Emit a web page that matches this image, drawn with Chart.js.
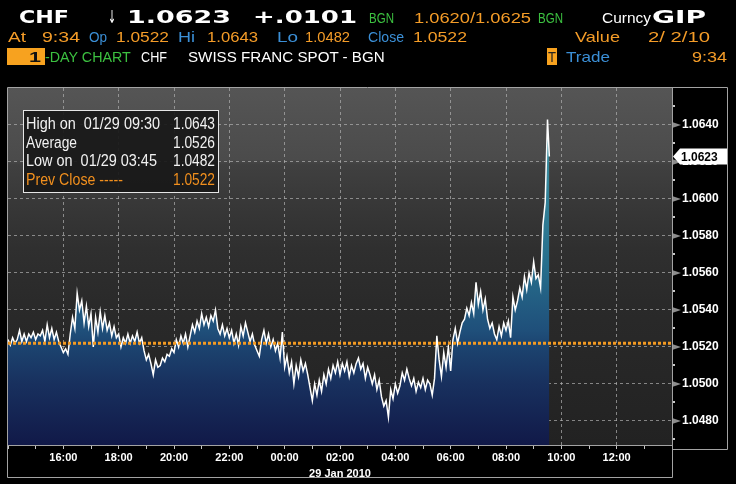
<!DOCTYPE html>
<html>
<head>
<meta charset="utf-8">
<script src="https://cdn.jsdelivr.net/npm/chart.js@4.4.1/dist/chart.umd.min.js"></script>
<style>
  html, body { margin: 0; padding: 0; background: #000; }
  #wrap { position: relative; width: 736px; height: 484px; overflow: hidden; }
  #chart { position: absolute; left: 0; top: 0; }
  #overlay { position: absolute; left: 0; top: 0; width: 736px; height: 484px; }
  .t { position: absolute; white-space: pre; transform-origin: 0 50%; line-height: 1; }
  .box { position: absolute; }
</style>
</head>
<body>
<div id="wrap">
  <canvas id="chart" width="736" height="484"></canvas>
  <div id="overlay"></div>
</div>
<script>
// CHF spot, 5 minute ticks from 14:00 (28 Jan) to 09:30 (29 Jan)
const startHour = 14;
const stepMin = 5;
const prices = [
  1.0524, 1.0521, 1.0525, 1.0522, 1.0524, 1.0529, 1.0523, 1.0527, 1.0523, 1.0527, 1.0525, 1.0528, // 14h
  1.0524, 1.0527, 1.0526, 1.0529, 1.0523, 1.0532, 1.0525, 1.0530, 1.0524, 1.0528, 1.0523, 1.0520, // 15h
  1.0517, 1.0519, 1.0516, 1.0527, 1.0536, 1.0530, 1.0549, 1.0540, 1.0545, 1.0533, 1.0542, 1.0531, // 16h
  1.0538, 1.0520, 1.0536, 1.0528, 1.0539, 1.0530, 1.0537, 1.0529, 1.0533, 1.0526, 1.0531, 1.0525, // 17h
  1.0527, 1.0520, 1.0525, 1.0522, 1.0527, 1.0522, 1.0526, 1.0523, 1.0528, 1.0522, 1.0525, 1.0518, // 18h
  1.0513, 1.0516, 1.0511, 1.0505, 1.0513, 1.0509, 1.0510, 1.0514, 1.0512, 1.0516, 1.0515, 1.0519, // 19h
  1.0517, 1.0524, 1.0520, 1.0526, 1.0522, 1.0527, 1.0520, 1.0526, 1.0532, 1.0528, 1.0534, 1.0530, // 20h
  1.0538, 1.0532, 1.0536, 1.0531, 1.0537, 1.0534, 1.0540, 1.0530, 1.0527, 1.0532, 1.0526, 1.0530, // 21h
  1.0525, 1.0529, 1.0522, 1.0527, 1.0521, 1.0531, 1.0526, 1.0533, 1.0528, 1.0523, 1.0527, 1.0521, // 22h
  1.0518, 1.0515, 1.0524, 1.0529, 1.0522, 1.0527, 1.0520, 1.0524, 1.0518, 1.0522, 1.0514, 1.0528, // 23h
  1.0509, 1.0515, 1.0506, 1.0512, 1.0500, 1.0510, 1.0504, 1.0513, 1.0507, 1.0511, 1.0505, 1.0498, // 00h
  1.0491, 1.0500, 1.0494, 1.0502, 1.0496, 1.0505, 1.0500, 1.0508, 1.0503, 1.0510, 1.0506, 1.0512, // 01h
  1.0505, 1.0511, 1.0507, 1.0512, 1.0504, 1.0510, 1.0506, 1.0511, 1.0514, 1.0508, 1.0511, 1.0503, // 02h
  1.0509, 1.0505, 1.0500, 1.0505, 1.0497, 1.0502, 1.0493, 1.0488, 1.0491, 1.0482, 1.0497, 1.0492, // 03h
  1.0500, 1.0495, 1.0499, 1.0506, 1.0502, 1.0508, 1.0503, 1.0499, 1.0503, 1.0496, 1.0501, 1.0498, // 04h
  1.0503, 1.0497, 1.0502, 1.0500, 1.0494, 1.0503, 1.0526, 1.0513, 1.0504, 1.0517, 1.0509, 1.0520, // 05h
  1.0507, 1.0524, 1.0530, 1.0522, 1.0528, 1.0533, 1.0535, 1.0541, 1.0537, 1.0544, 1.0538, 1.0555, // 06h
  1.0543, 1.0550, 1.0540, 1.0546, 1.0535, 1.0530, 1.0533, 1.0527, 1.0524, 1.0531, 1.0526, 1.0533, // 07h
  1.0529, 1.0534, 1.0525, 1.0547, 1.0540, 1.0545, 1.0552, 1.0547, 1.0558, 1.0551, 1.0560, 1.0555, // 08h
  1.0566, 1.0557, 1.0559, 1.0552, 1.0586, 1.0598, 1.0643                                          // 09h
];
const lastTime = '09:34';
const lastPrice = 1.0623;
const prevClose = 1.0522;

const yMin = 1.0467, yMax = 1.0660;
const yTicks = [1.0480, 1.0500, 1.0520, 1.0540, 1.0560, 1.0580, 1.0600, 1.0620, 1.0640];
const xLabels = ['16:00', '18:00', '20:00', '22:00', '00:00', '02:00', '04:00', '06:00', '08:00', '10:00', '12:00'];
const dateLabel = '29 Jan 2010';

const statRows = [
  ['High on  01/29 09:30', '1.0643'],
  ['Average', '1.0526'],
  ['Low on  01/29 03:45', '1.0482'],
  ['Prev Close -----', '1.0522']
];

const ORANGE = '#f49c28';
const BLUE = '#3b8fd6';
const GREEN = '#3cc040';

function minutesFrom(t) {
  const [h, m] = t.split(':').map(Number);
  let v = h * 60 + m - startHour * 60;
  if (v < 0) v += 1440;
  return v;
}
function hourLabel(v) {
  const h = (startHour + Math.round(v / 60)) % 24;
  return String(h).padStart(2, '0') + ':00';
}

// ---- header and stats box (html text) ----
const overlay = document.getElementById('overlay');
const meas = document.createElement('canvas').getContext('2d');

function put(text, x0, x1, yc, color, size, family, weight) {
  const el = document.createElement('span');
  el.className = 't';
  el.textContent = text;
  const font = (weight || 'normal') + ' ' + size + 'px ' + family;
  el.style.font = font;
  el.style.lineHeight = '1';
  el.style.color = color;
  meas.font = font;
  const w = meas.measureText(text).width;
  el.style.left = x0 + 'px';
  el.style.top = (yc - size * 0.48) + 'px';
  el.style.transform = 'scaleX(' + ((x1 - x0) / w).toFixed(3) + ')';
  overlay.appendChild(el);
}
function rect(x, y, w, h, bg, border) {
  const d = document.createElement('div');
  d.className = 'box';
  d.style.left = x + 'px'; d.style.top = y + 'px';
  d.style.width = w + 'px'; d.style.height = h + 'px';
  d.style.background = bg;
  if (border) d.style.border = border;
  overlay.appendChild(d);
}

const BIG = '"DejaVu Sans"', SM = '"Liberation Sans"';
put('CHF', 19, 69, 16.5, '#fff', 18, BIG, 'bold');
put('\u2193', 108, 116, 16.5, '#fff', 18, BIG, 'normal');
put('1.0623', 127, 231, 16.5, '#fff', 18, BIG, 'bold');
put('+.0101', 253, 357, 16.5, '#fff', 18, BIG, 'bold');
put('BGN', 369, 394, 17, GREEN, 15, SM);
put('1.0620/1.0625', 414, 531, 17, ORANGE, 15, SM);
put('BGN', 538, 563, 17, GREEN, 15, SM);
put('Curncy', 602, 651, 17, '#fff', 15, SM);
put('GIP', 652, 706, 16.5, '#fff', 18, BIG, 'bold');

put('At', 8, 26, 36.5, ORANGE, 15, SM);
put('9:34', 42, 80, 36.5, ORANGE, 15, SM);
put('Op', 89, 107, 36.5, BLUE, 15, SM);
put('1.0522', 116, 169, 36.5, ORANGE, 15, SM);
put('Hi', 178, 195, 36.5, BLUE, 15, SM);
put('1.0643', 207, 258, 36.5, ORANGE, 15, SM);
put('Lo', 277, 298, 36.5, BLUE, 15, SM);
put('1.0482', 305, 350, 36.5, ORANGE, 15, SM);
put('Close', 368, 404, 36.5, BLUE, 15, SM);
put('1.0522', 413, 467, 36.5, ORANGE, 15, SM);
put('Value', 575, 620, 36.5, ORANGE, 15, SM);
put('2/ 2/10', 648, 710, 36.5, ORANGE, 15, SM);

rect(7, 48, 38, 17, '#f7a21f');
put('1', 29, 41, 56, '#111', 15, SM, 'bold');
put('-DAY CHART', 45, 131, 56, GREEN, 15, SM);
put('CHF', 141, 167, 56, '#fff', 15, SM);
put('SWISS FRANC SPOT - BGN', 188, 385, 56, '#fff', 15, SM);
rect(547, 48, 10, 17, '#f7a21f');
put('T', 548, 556, 56, '#222', 15, SM);
put('Trade', 566, 610, 56, BLUE, 15, SM);
put('9:34', 692, 727, 56, ORANGE, 15, SM);

rect(23, 110, 194, 81, 'rgba(24,24,24,0.92)', '1px solid #e6e6e6');
const rowY = [123.5, 142.5, 161, 180];
const rowW = [160, 77, 157, 123];
statRows.forEach((r, i) => {
  const c = i === 3 ? '#f2901e' : '#f2f2f2';
  put(r[0], 26, rowW[i], rowY[i], c, 16, SM);
  put(r[1], 173, 215, rowY[i], c, 16, SM);
});

// ---- chart ----
const pricePoints = prices.map((p, i) => ({ x: i * stepMin, y: p }));
pricePoints.push({ x: minutesFrom(lastTime), y: lastPrice });

function areaFill(ctx) {
  const { chart } = ctx;
  const a = chart.chartArea;
  if (!a) return '#1c4470';
  const g = chart.ctx.createLinearGradient(0, a.top, 0, a.bottom);
  g.addColorStop(0.10, '#3f95a3');
  g.addColorStop(0.50, '#276e8c');
  g.addColorStop(0.68, '#1f4f7a');
  g.addColorStop(0.72, '#1c4470');
  g.addColorStop(0.83, '#18305e');
  g.addColorStop(1.00, '#111948');
  return g;
}

const framePlugin = {
  id: 'frame',
  beforeDraw(chart) {
    const { ctx, chartArea: a } = chart;
    const g = ctx.createLinearGradient(0, a.top, 0, a.bottom);
    g.addColorStop(0, '#555555');
    g.addColorStop(0.20, '#4b4b4b');
    g.addColorStop(0.215, '#404040');
    g.addColorStop(0.32, '#383838');
    g.addColorStop(0.45, '#2f2f2f');
    g.addColorStop(0.60, '#2a2a2a');
    g.addColorStop(1, '#222222');
    ctx.save();
    ctx.fillStyle = g;
    ctx.fillRect(a.left, a.top, a.right - a.left, a.bottom - a.top);
    ctx.restore();
  },
  afterDraw(chart) {
    const { ctx, chartArea: a, scales } = chart;
    const y = scales.y, x = scales.x;
    ctx.save();
    // tick wedges and minor dots on the price axis
    yTicks.forEach(v => {
      const p = y.getPixelForValue(v);
      ctx.fillStyle = '#8d8d8d';
      ctx.beginPath();
      ctx.moveTo(a.right, p - 3);
      ctx.lineTo(a.right + 9, p);
      ctx.lineTo(a.right, p + 3);
      ctx.closePath();
      ctx.fill();
    });
    ctx.fillStyle = '#c8c8c8';
    for (let v = 1.0470; v < yMax; v += 0.002) {
      const p = Math.round(y.getPixelForValue(v));
      ctx.fillRect(a.right + 1, p - 1, 2, 2);
    }
    // frames
    ctx.strokeStyle = '#a3a3a3';
    ctx.lineWidth = 1;
    ctx.beginPath();
    ctx.moveTo(a.left - 0.5, x.bottom + 0.5);
    ctx.lineTo(a.left - 0.5, a.top - 0.5);
    ctx.lineTo(y.right + 0.5, a.top - 0.5);
    ctx.lineTo(y.right + 0.5, a.bottom + 4.5);
    ctx.lineTo(a.right + 0.5, a.bottom + 4.5);
    ctx.moveTo(a.right + 0.5, a.top);
    ctx.lineTo(a.right + 0.5, x.bottom + 0.5);
    ctx.lineTo(a.left - 0.5, x.bottom + 0.5);
    ctx.moveTo(a.left, a.bottom + 0.5);
    ctx.lineTo(a.right, a.bottom + 0.5);
    ctx.stroke();
    // last price tag
    const p = y.getPixelForValue(lastPrice);
    ctx.fillStyle = '#ffffff';
    ctx.beginPath();
    ctx.moveTo(a.right + 1, p);
    ctx.lineTo(a.right + 8, p - 8);
    ctx.lineTo(y.right, p - 8);
    ctx.lineTo(y.right, p + 8);
    ctx.lineTo(a.right + 8, p + 8);
    ctx.closePath();
    ctx.fill();
    ctx.fillStyle = '#000';
    ctx.font = 'bold 12px "Liberation Sans"';
    ctx.textBaseline = 'middle';
    ctx.fillText(lastPrice.toFixed(4), a.right + 9, p + 1);
    ctx.restore();
  }
};

new Chart(document.getElementById('chart'), {
  type: 'line',
  data: {
    datasets: [
      {
        data: pricePoints,
        borderColor: '#ffffff',
        borderWidth: 1.5,
        pointRadius: 0,
        tension: 0,
        fill: 'start',
        backgroundColor: areaFill,
        order: 2
      },
      {
        data: [{ x: 0, y: prevClose }, { x: 1440, y: prevClose }],
        borderColor: '#f39a22',
        borderWidth: 3,
        borderDash: [3, 2],
        pointRadius: 0,
        fill: false,
        order: 1
      }
    ]
  },
  options: {
    responsive: false,
    animation: false,
    events: [],
    layout: { padding: { left: 8, top: 88, right: 9, bottom: 7 } },
    plugins: { legend: { display: false }, tooltip: { enabled: false } },
    scales: {
      x: {
        type: 'linear',
        min: 0,
        max: 1440,
        afterBuildTicks: s => {
          const t = [];
          for (let v = 0; v <= 1440; v += 60) t.push({ value: v });
          s.ticks = t;
        },
        afterFit: s => { s.height = 32; },
        grid: {
          color: c => (c.tick && xLabels.includes(hourLabel(c.tick.value)) && c.tick.value > 0 && c.tick.value < 1440) ? 'rgba(175,175,175,0.7)' : 'transparent',
          tickColor: '#c4c4c4',
          tickLength: 4,
          tickWidth: 1,
          tickBorderDash: []
        },
        border: { display: false, dash: [3, 3] },
        ticks: {
          color: '#ffffff',
          font: { family: 'Liberation Sans', size: 11, weight: 'bold' },
          padding: 2,
          maxRotation: 0,
          autoSkip: false,
          callback: v => {
            const l = hourLabel(v);
            return (v > 0 && v < 1440 && xLabels.includes(l)) ? l : '';
          }
        },
        title: {
          display: true,
          text: dateLabel,
          color: '#ffffff',
          font: { family: 'Liberation Sans', size: 11, weight: 'bold' },
          padding: { top: 0, bottom: -4 }
        }
      },
      y: {
        position: 'right',
        min: yMin,
        max: yMax,
        afterBuildTicks: s => { s.ticks = yTicks.map(v => ({ value: v })); },
        afterFit: s => { s.width = 55; },
        grid: { color: 'rgba(175,175,175,0.7)', drawTicks: false },
        border: { display: false, dash: [3, 3] },
        ticks: {
          color: '#ffffff',
          font: { family: 'Liberation Sans', size: 12, weight: 'bold' },
          padding: 10,
          callback: v => v.toFixed(4)
        }
      }
    }
  },
  plugins: [framePlugin]
});
</script>
</body>
</html>
